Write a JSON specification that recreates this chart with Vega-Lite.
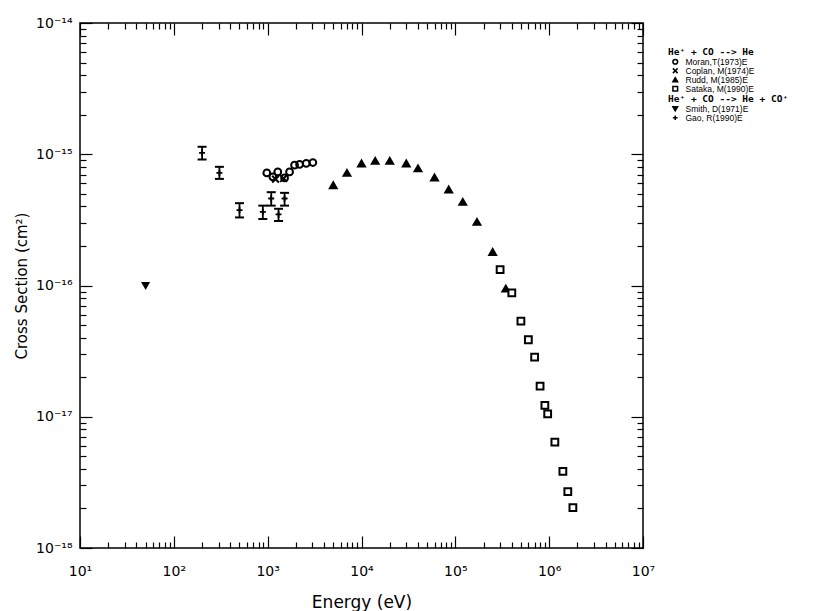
{
  "$schema": "https://vega.github.io/schema/vega-lite/v6.json",
  "autosize": {"type": "none"},
  "padding": {"left": 80, "top": 23, "right": 181, "bottom": 63},
  "width": 563,
  "height": 525,
  "background": "white",
  "config": {
    "view": {"stroke": "black", "strokeWidth": 1.5},
    "axis": {
      "domain": false,
      "grid": false,
      "tickColor": "black",
      "tickWidth": 1.2,
      "labelColor": "black",
      "labelFont": "DejaVu Sans",
      "labelFontSize": 14,
      "titleColor": "black",
      "titleFont": "DejaVu Sans",
      "titleFontWeight": "normal",
      "labelFlush": false,
      "labelOverlap": false
    },
    "legend": {
      "orient": "none",
      "titleFont": "DejaVu Sans Mono",
      "titleFontSize": 9.5,
      "titleFontWeight": "bold",
      "titleColor": "black",
      "titlePadding": 1,
      "labelFont": "Liberation Sans",
      "labelFontSize": 8.5,
      "labelColor": "black",
      "labelOffset": 6,
      "rowPadding": 0,
      "clipHeight": 8.5,
      "symbolOffset": 3,
      "symbolSize": 22,
      "symbolStrokeWidth": 1.5
    }
  },
  "datasets": {
    "toHe": [
      {"E": 979, "s": 7.21e-16, "series": "Moran,T(1973)E"},
      {"E": 1135, "s": 6.73e-16, "series": "Moran,T(1973)E"},
      {"E": 1282, "s": 7.34e-16, "series": "Moran,T(1973)E"},
      {"E": 1514, "s": 6.6e-16, "series": "Moran,T(1973)E"},
      {"E": 1711, "s": 7.34e-16, "series": "Moran,T(1973)E"},
      {"E": 1935, "s": 8.26e-16, "series": "Moran,T(1973)E"},
      {"E": 2188, "s": 8.36e-16, "series": "Moran,T(1973)E"},
      {"E": 2578, "s": 8.51e-16, "series": "Moran,T(1973)E"},
      {"E": 3032, "s": 8.65e-16, "series": "Moran,T(1973)E"},
      {"E": 1213, "s": 6.46e-16, "series": "Coplan, M(1974)E"},
      {"E": 1479, "s": 6.54e-16, "series": "Coplan, M(1974)E"},
      {"E": 5000, "s": 5.81e-16, "series": "Rudd, M(1985)E"},
      {"E": 7000, "s": 7.21e-16, "series": "Rudd, M(1985)E"},
      {"E": 10000, "s": 8.51e-16, "series": "Rudd, M(1985)E"},
      {"E": 14000, "s": 8.91e-16, "series": "Rudd, M(1985)E"},
      {"E": 20000, "s": 8.91e-16, "series": "Rudd, M(1985)E"},
      {"E": 30000, "s": 8.51e-16, "series": "Rudd, M(1985)E"},
      {"E": 40000, "s": 7.8e-16, "series": "Rudd, M(1985)E"},
      {"E": 60000, "s": 6.65e-16, "series": "Rudd, M(1985)E"},
      {"E": 85000, "s": 5.39e-16, "series": "Rudd, M(1985)E"},
      {"E": 120000, "s": 4.34e-16, "series": "Rudd, M(1985)E"},
      {"E": 170000, "s": 3.05e-16, "series": "Rudd, M(1985)E"},
      {"E": 250000, "s": 1.8e-16, "series": "Rudd, M(1985)E"},
      {"E": 345000, "s": 9.46e-17, "series": "Rudd, M(1985)E"},
      {"E": 300000, "s": 1.32e-16, "series": "Sataka, M(1990)E"},
      {"E": 400000, "s": 8.77e-17, "series": "Sataka, M(1990)E"},
      {"E": 500000, "s": 5.36e-17, "series": "Sataka, M(1990)E"},
      {"E": 600000, "s": 3.86e-17, "series": "Sataka, M(1990)E"},
      {"E": 700000, "s": 2.85e-17, "series": "Sataka, M(1990)E"},
      {"E": 800000, "s": 1.71e-17, "series": "Sataka, M(1990)E"},
      {"E": 900000, "s": 1.22e-17, "series": "Sataka, M(1990)E"},
      {"E": 964000, "s": 1.05e-17, "series": "Sataka, M(1990)E"},
      {"E": 1150000, "s": 6.4e-18, "series": "Sataka, M(1990)E"},
      {"E": 1400000, "s": 3.83e-18, "series": "Sataka, M(1990)E"},
      {"E": 1580000, "s": 2.69e-18, "series": "Sataka, M(1990)E"},
      {"E": 1790000, "s": 2.03e-18, "series": "Sataka, M(1990)E"}
    ],
    "toHeCO": [
      {"E": 50, "s": 1.0e-16, "lo": null, "hi": null, "series": "Smith, D(1971)E"},
      {"E": 200, "s": 1.026e-15, "lo": 9.12e-16, "hi": 1.14e-15, "series": "Gao, R(1990)E"},
      {"E": 306, "s": 7.21e-16, "lo": 6.49e-16, "hi": 8.02e-16, "series": "Gao, R(1990)E"},
      {"E": 501, "s": 3.75e-16, "lo": 3.3e-16, "hi": 4.24e-16, "series": "Gao, R(1990)E"},
      {"E": 888, "s": 3.64e-16, "lo": 3.21e-16, "hi": 4.06e-16, "series": "Gao, R(1990)E"},
      {"E": 1091, "s": 4.6e-16, "lo": 4.06e-16, "hi": 5.14e-16, "series": "Gao, R(1990)E"},
      {"E": 1306, "s": 3.48e-16, "lo": 3.1e-16, "hi": 3.84e-16, "series": "Gao, R(1990)E"},
      {"E": 1514, "s": 4.6e-16, "lo": 4.06e-16, "hi": 5.08e-16, "series": "Gao, R(1990)E"}
    ]
  },
  "layer": [
    {
      "data": {"name": "toHe"},
      "mark": {"type": "point", "strokeWidth": 2, "size": 46, "opacity": 1},
      "encoding": {
        "x": {
          "field": "E", "type": "quantitative",
          "scale": {"type": "log", "domain": [10, 10000000], "nice": false},
          "axis": {
            "orient": "bottom",
            "title": "Energy (eV)",
            "titleFontSize": 17,
            "titlePadding": 10,
            "values": [10,20,30,40,50,60,70,80,90,100,200,300,400,500,600,700,800,900,1000,2000,3000,4000,5000,6000,7000,8000,9000,10000,20000,30000,40000,50000,60000,70000,80000,90000,100000,200000,300000,400000,500000,600000,700000,800000,900000,1000000,2000000,3000000,4000000,5000000,6000000,7000000,8000000,9000000,10000000],
            "tickSize": {"condition": {"test": "abs(log(datum.value)/LN10 - round(log(datum.value)/LN10)) < 0.01", "value": -12}, "value": -6},
            "labelPadding": 28,
            "labelExpr": "abs(log(datum.value)/LN10 - round(log(datum.value)/LN10)) < 0.01 ? '10' + ['⁰','¹','²','³','⁴','⁵','⁶','⁷'][round(log(datum.value)/LN10)] : ''"
          }
        },
        "y": {
          "field": "s", "type": "quantitative",
          "scale": {"type": "log", "domain": [1e-18, 1e-14], "nice": false},
          "axis": {
            "orient": "left",
            "title": "Cross Section (cm²)",
            "titleFontSize": 15,
            "titlePadding": 6,
            "values": [1e-18,2e-18,3e-18,4e-18,5e-18,6e-18,7e-18,8e-18,9e-18,1e-17,2e-17,3e-17,4e-17,5e-17,6e-17,7e-17,8e-17,9e-17,1e-16,2e-16,3e-16,4e-16,5e-16,6e-16,7e-16,8e-16,9e-16,1e-15,2e-15,3e-15,4e-15,5e-15,6e-15,7e-15,8e-15,9e-15,1e-14],
            "tickSize": {"condition": {"test": "abs(log(datum.value)/LN10 - round(log(datum.value)/LN10)) < 0.01", "value": -12}, "value": -6},
            "labelPadding": 20,
            "labelExpr": "abs(log(datum.value)/LN10 - round(log(datum.value)/LN10)) < 0.01 ? '10⁻¹' + ['⁰','¹','²','³','⁴','⁵','⁶','⁷','⁸','⁹'][-round(log(datum.value)/LN10) - 10] : ''"
          }
        },
        "shape": {
          "field": "series", "type": "nominal",
          "scale": {
            "domain": ["Moran,T(1973)E", "Coplan, M(1974)E", "Rudd, M(1985)E", "Sataka, M(1990)E"],
            "range": ["circle", "M-1,-1L1,1M-1,1L1,-1", "triangle-up", "square"]
          },
          "legend": {"title": "He⁺ + CO --> He", "legendX": 588, "legendY": 24}
        },
        "fill": {
          "field": "series", "type": "nominal",
          "scale": {
            "domain": ["Moran,T(1973)E", "Coplan, M(1974)E", "Rudd, M(1985)E", "Sataka, M(1990)E"],
            "range": ["transparent", "transparent", "black", "white"]
          },
          "legend": {"title": "He⁺ + CO --> He", "legendX": 588, "legendY": 24}
        },
        "stroke": {
          "field": "series", "type": "nominal",
          "scale": {
            "domain": ["Moran,T(1973)E", "Coplan, M(1974)E", "Rudd, M(1985)E", "Sataka, M(1990)E"],
            "range": ["black", "black", "black", "black"]
          },
          "legend": {"title": "He⁺ + CO --> He", "legendX": 588, "legendY": 24}
        }
      }
    },
    {
      "data": {"name": "toHeCO"},
      "mark": {"type": "rule", "color": "black", "strokeWidth": 1.8},
      "encoding": {
        "x": {"field": "E", "type": "quantitative", "axis": null},
        "y": {"field": "lo", "type": "quantitative", "axis": null},
        "y2": {"field": "hi"}
      }
    },
    {
      "data": {"name": "toHeCO"},
      "transform": [{"fold": ["lo", "hi"], "as": ["end", "cap"]}],
      "mark": {"type": "tick", "orient": "horizontal", "color": "black", "size": 9, "thickness": 2, "opacity": 1},
      "encoding": {
        "x": {"field": "E", "type": "quantitative", "axis": null},
        "y": {"field": "cap", "type": "quantitative", "axis": null}
      }
    },
    {
      "data": {"name": "toHeCO"},
      "mark": {"type": "point", "strokeWidth": 1.8, "size": 36, "opacity": 1},
      "encoding": {
        "x": {
          "field": "E", "type": "quantitative",
          "axis": {
            "orient": "top",
            "title": null,
            "labels": false,
            "values": [10,20,30,40,50,60,70,80,90,100,200,300,400,500,600,700,800,900,1000,2000,3000,4000,5000,6000,7000,8000,9000,10000,20000,30000,40000,50000,60000,70000,80000,90000,100000,200000,300000,400000,500000,600000,700000,800000,900000,1000000,2000000,3000000,4000000,5000000,6000000,7000000,8000000,9000000,10000000],
            "tickSize": {"condition": {"test": "abs(log(datum.value)/LN10 - round(log(datum.value)/LN10)) < 0.01", "value": -12}, "value": -6}
          }
        },
        "y": {
          "field": "s", "type": "quantitative",
          "axis": {
            "orient": "right",
            "title": null,
            "labels": false,
            "values": [1e-18,2e-18,3e-18,4e-18,5e-18,6e-18,7e-18,8e-18,9e-18,1e-17,2e-17,3e-17,4e-17,5e-17,6e-17,7e-17,8e-17,9e-17,1e-16,2e-16,3e-16,4e-16,5e-16,6e-16,7e-16,8e-16,9e-16,1e-15,2e-15,3e-15,4e-15,5e-15,6e-15,7e-15,8e-15,9e-15,1e-14],
            "tickSize": {"condition": {"test": "abs(log(datum.value)/LN10 - round(log(datum.value)/LN10)) < 0.01", "value": -12}, "value": -6}
          }
        },
        "shape": {
          "field": "series", "type": "nominal",
          "scale": {
            "domain": ["Smith, D(1971)E", "Gao, R(1990)E"],
            "range": ["triangle-down", "M-1,0L1,0M0,-1L0,1"]
          },
          "legend": {"title": "He⁺ + CO --> He + CO⁺", "legendX": 588, "legendY": 71}
        },
        "fill": {
          "field": "series", "type": "nominal",
          "scale": {
            "domain": ["Smith, D(1971)E", "Gao, R(1990)E"],
            "range": ["black", "transparent"]
          },
          "legend": {"title": "He⁺ + CO --> He + CO⁺", "legendX": 588, "legendY": 71}
        },
        "stroke": {
          "field": "series", "type": "nominal",
          "scale": {
            "domain": ["Smith, D(1971)E", "Gao, R(1990)E"],
            "range": ["black", "black"]
          },
          "legend": {"title": "He⁺ + CO --> He + CO⁺", "legendX": 588, "legendY": 71}
        }
      }
    }
  ],
  "resolve": {
    "scale": {"shape": "independent", "fill": "independent", "stroke": "independent"},
    "axis": {"x": "independent", "y": "independent"}
  }
}
